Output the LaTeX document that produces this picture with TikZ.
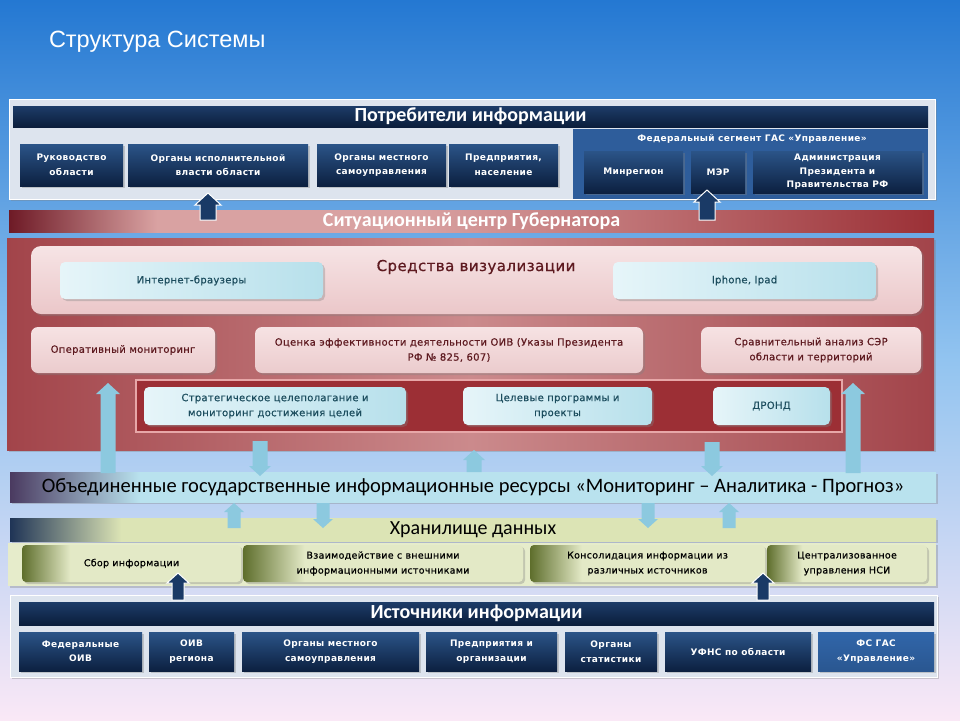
\documentclass[tikz,border=0pt]{standalone}
\usepackage{fontspec}
\setmainfont{DejaVu Sans}
\newfontfamily\calfont{Carlito}
\newfontfamily\arialfont{Liberation Sans}
\newfontfamily\boxfont[LetterSpace=4]{DejaVu Sans}
\newfontfamily\softfont[LetterSpace=3,FakeBold=0.6]{DejaVu Sans}
\usetikzlibrary{shadows}
\definecolor{bgT}{HTML}{2478D2}
\definecolor{bgM}{HTML}{92C4F0}
\definecolor{bgB}{HTML}{FAE8F6}
\definecolor{panelG}{HTML}{DDE4EE}
\definecolor{navyT}{HTML}{2B5488}
\definecolor{navyB}{HTML}{0C2040}
\definecolor{hdrT}{HTML}{1D3C68}
\definecolor{hdrB}{HTML}{0B1E3C}
\definecolor{fedB}{HTML}{2E5D9B}
\definecolor{fsB}{HTML}{3166AA}
\definecolor{sitL}{HTML}{6E1A26}
\definecolor{sitM}{HTML}{D9A2A2}
\definecolor{sitR}{HTML}{9B3036}
\definecolor{redE}{HTML}{A2444A}
\definecolor{redM}{HTML}{CB8A8C}
\definecolor{vispT}{HTML}{F6E4E5}
\definecolor{vispB}{HTML}{EBC7C9}
\definecolor{pinkT}{HTML}{F6E2E3}
\definecolor{pinkB}{HTML}{EBCBCD}
\definecolor{cyanL}{HTML}{E6F5F9}
\definecolor{cyanR}{HTML}{B7E0EB}
\definecolor{innerR}{HTML}{9C2F35}
\definecolor{innerE}{HTML}{E7A7A8}
\definecolor{arrLB}{HTML}{8CC9DF}
\definecolor{ogirL}{HTML}{4A3A60}
\definecolor{ogirM}{HTML}{B9E2EE}
\definecolor{storN}{HTML}{1F3456}
\definecolor{storM}{HTML}{DCE4B5}
\definecolor{olive}{HTML}{5E6E2C}
\definecolor{paleG}{HTML}{E3E9C6}
\definecolor{textR}{HTML}{5E1A20}
\definecolor{textT}{HTML}{1C4D5E}
\definecolor{arrN}{HTML}{1A3A66}
\pgfdeclarehorizontalshading{sitsh}{100bp}{color(0bp)=(sitL); color(25bp)=(sitL); color(33bp)=(sitM); color(47bp)=(sitM); color(75bp)=(sitR); color(100bp)=(sitR)}
\pgfdeclarehorizontalshading{redsh}{100bp}{color(0bp)=(redE); color(25bp)=(redE); color(50bp)=(redM); color(75bp)=(redE); color(100bp)=(redE)}
\pgfdeclarehorizontalshading{ogirsh}{100bp}{color(0bp)=(ogirL); color(25bp)=(ogirL); color(32bp)=(ogirM); color(100bp)=(ogirM)}
\pgfdeclarehorizontalshading{storsh}{100bp}{color(0bp)=(storN); color(25bp)=(storN); color(31bp)=(storM); color(100bp)=(storM)}
\pgfdeclarehorizontalshading{olivesh}{100bp}{color(0bp)=(olive); color(25bp)=(olive); color(36bp)=(paleG); color(100bp)=(paleG)}
\newcommand\bx[7]{\node[#1,minimum width={(#5-(#3))*1pt},minimum height={(#6-(#4))*1pt}] (#2) at ({(#3+#5)/2},{(#4+#6)/2}) {#7};}
\newcommand\blkarr[7]{\path[#1] ({#2-#5},#4) -- ({#2-#5},{#3+#7}) -- ({#2-#6},{#3+#7}) -- (#2,#3) -- ({#2+#6},{#3+#7}) -- ({#2+#5},{#3+#7}) -- ({#2+#5},#4) -- cycle;}
\begin{document}
\begin{tikzpicture}[x=1pt,y=-1pt,
  every node/.style={inner sep=0pt,outer sep=0pt,align=center},
  shad/.style={drop shadow={opacity=.35,shadow xshift=2pt,shadow yshift=-2pt}},
  panel/.style={fill=panelG,draw=white,line width=1pt,shad},
  navybox/.style={top color=navyT,bottom color=navyB,text=white,shad,
    font=\boxfont\bfseries\fontsize{9}{14.5}\selectfont},
  header/.style={top color=hdrT,bottom color=hdrB,text=white,
    font=\calfont\bfseries\fontsize{20}{22}\selectfont},
  pinkbox/.style={top color=pinkT,bottom color=pinkB,rounded corners=7pt,shad,
    text=textR,font=\softfont\fontsize{10}{15}\selectfont},
  cyanbox/.style={left color=cyanL,right color=cyanR,rounded corners=5pt,shad,
    text=textT,font=\softfont\fontsize{10}{15}\selectfont},
  storbox/.style={shading=olivesh,rounded corners=4pt,shad,text=black,
    font=\softfont\fontsize{9.5}{15}\selectfont},
  lbarrow/.style={fill=arrLB},
  nvarrow/.style={fill=arrN,draw=white,line width=1pt}]
\useasboundingbox (0,0) rectangle (960,720);
\shade[top color=bgT,bottom color=bgB,middle color=bgM] (0,0) rectangle (960,720);
\node[anchor=west,text=white,font=\arialfont\fontsize{23.5}{25}\selectfont] (title) at (49,42) {Структура Системы};

% ---- consumers
\bx{panel}{cons}{9}{99}{935}{199}{}
\bx{header}{consH}{13}{106}{928}{127}{Потребители информации}
\bx{navybox}{c1}{20}{144}{123}{186}{Руководство\\области}
\bx{navybox}{c2}{128}{144}{308}{186}{Органы исполнительной\\власти области}
\bx{navybox}{c3}{317}{144}{446}{186}{Органы местного\\самоуправления}
\bx{navybox}{c4}{449}{144}{558}{186}{Предприятия,\\население}
\bx{fill=fedB}{fed}{573}{129}{928}{199}{}
\node[text=white,font=\boxfont\bfseries\fontsize{9}{10}\selectfont] (fedT) at (752,139) {Федеральный сегмент ГАС «Управление»};
\bx{navybox}{f1}{584}{151}{683}{193}{Минрегион}
\bx{navybox}{f2}{691}{151}{745}{193}{МЭР}
\bx{navybox,font=\boxfont\bfseries\fontsize{9}{13.5}\selectfont}{f3}{753}{151}{922}{193}{Администрация\\Президента и\\Правительства  РФ}

% ---- situation center
\bx{shading=sitsh,text=white,font=\calfont\bfseries\fontsize{20}{22}\selectfont}{sit}{9}{210}{934}{232}{Ситуационный центр Губернатора}
\blkarr{nvarrow}{208}{193}{220}{8}{13}{12}
\blkarr{nvarrow}{707}{190}{220}{8}{13}{12}

% ---- red panel
\bx{shading=redsh,shad}{red}{7}{238}{934}{450}{}
\bx{top color=vispT,bottom color=vispB,rounded corners=10pt,shad}{vis}{31}{246}{922}{314}{}
\node[text=textR,font=\softfont\fontsize{15}{17}\selectfont] (visT) at (476,267) {Средства визуализации};
\bx{cyanbox}{v1}{60}{262}{323}{299}{Интернет-браузеры}
\bx{cyanbox}{v2}{613}{262}{876}{299}{Iphone, Ipad}
\bx{pinkbox}{p1}{31}{327}{215}{373}{Оперативный мониторинг}
\bx{pinkbox}{p2}{255}{327}{643}{373}{Оценка эффективности деятельности ОИВ (Указы Президента\\РФ № 825, 607)}
\bx{pinkbox}{p3}{701}{327}{921}{373}{Сравнительный анализ СЭР\\области и территорий}
\bx{fill=innerR,draw=innerE,line width=1.5pt}{inner}{136}{380}{842}{432}{}
\bx{cyanbox}{i1}{144}{387}{406}{425}{Стратегическое целеполагание и\\мониторинг достижения целей}
\bx{cyanbox}{i2}{463}{387}{652}{425}{Целевые программы и\\проекты}
\bx{cyanbox}{i3}{713}{387}{830}{425}{ДРОНД}

% ---- OGIR
\bx{shading=ogirsh,shad,font=\calfont\fontsize{20.5}{22}\selectfont}{ogir}{10}{472}{936}{502}{Объединенные государственные информационные ресурсы «Мониторинг – Аналитика - Прогноз»}
\blkarr{lbarrow}{108}{383}{473}{7.5}{12}{11}
\blkarr{lbarrow}{853}{383}{473}{7.5}{12}{11}
\blkarr{lbarrow}{260}{476}{441}{7.5}{11}{-10}
\blkarr{lbarrow}{712}{476}{442}{7.5}{11}{-10}
\blkarr{lbarrow}{474}{450}{472}{7.5}{11}{10}

% ---- storage
\bx{shading=storsh,shad,font=\calfont\fontsize{20}{22}\selectfont}{stor}{10}{518}{936}{541}{Хранилище данных}
\blkarr{lbarrow}{234}{503}{528}{6.5}{10}{9}
\blkarr{lbarrow}{729}{503}{528}{6.5}{10}{9}
\blkarr{lbarrow}{323}{528}{503}{6.5}{10}{-9}
\blkarr{lbarrow}{648}{528}{503}{6.5}{10}{-9}
\bx{fill=storM!70!white,shad}{storP}{8}{543}{936}{586}{}
\bx{storbox}{s1}{22}{545}{241}{582}{Сбор информации}
\bx{storbox}{s2}{243}{545}{523}{582}{Взаимодействие с внешними\\информационными источниками}
\bx{storbox}{s3}{530}{545}{765}{582}{Консолидация информации из\\различных источников}
\bx{storbox}{s4}{767}{545}{927}{582}{Централизованное\\управления НСИ}

% ---- sources
\bx{panel}{src}{10}{595}{937}{677}{}
\bx{header}{srcH}{19}{602}{934}{625}{Источники информации}
\bx{navybox}{o1}{19}{632}{142}{671}{Федеральные\\ОИВ}
\bx{navybox}{o2}{149}{632}{234}{671}{ОИВ\\региона}
\bx{navybox}{o3}{242}{632}{419}{671}{Органы местного\\самоуправления}
\bx{navybox}{o4}{426}{632}{557}{671}{Предприятия и\\организации}
\bx{navybox}{o5}{565}{632}{657}{671}{Органы\\статистики}
\bx{navybox}{o6}{665}{632}{811}{671}{УФНС по области}
\bx{navybox,top color=fsB,bottom color=fsB!85!black}{o7}{818}{632}{934}{671}{ФС ГАС\\«Управление»}
\blkarr{nvarrow}{178}{573}{600}{6}{11}{10}
\blkarr{nvarrow}{763}{573}{600}{6}{11}{10}
\end{tikzpicture}
\end{document}
